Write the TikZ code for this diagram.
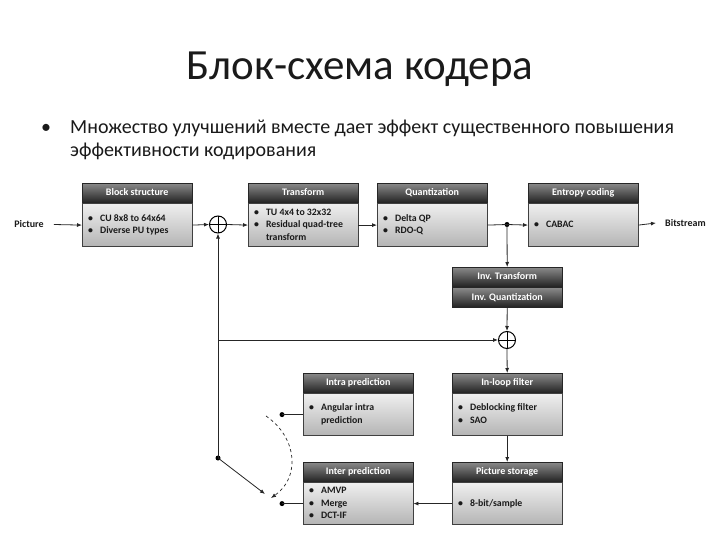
\documentclass[tikz,border=0pt]{standalone}
\usepackage{fontspec}
\setmainfont{Carlito}
\usetikzlibrary{arrows.meta}
\definecolor{ttop}{HTML}{8A8A8A}
\definecolor{tbot}{HTML}{202020}
\definecolor{btop}{HTML}{EFEFEF}
\definecolor{bbot}{HTML}{B4B4B4}
\definecolor{txt}{HTML}{1A1A1A}
\newcommand\itemsbox[1]{\begin{tabular}{@{}l@{\hspace{7pt}}l@{}}#1\end{tabular}}
\newcommand\bu{\textbullet}
\newcommand\blk[5]{%
  \node[titlebar, anchor=north west] (#1) at #2 {#3};
  \node[bodybox, minimum height=#5, anchor=north west] (#1b) at (#1.south west) {};
  \node[bodytext, anchor=west] (#1t) at ([xshift=6pt]#1b.west) {#4};
}
\begin{document}
\begin{tikzpicture}[x=1pt,y=-1pt,
  titlebar/.style={draw=black!85, top color=ttop, bottom color=tbot, text=white,
     font=\fontsize{10}{11}\selectfont\bfseries, minimum width=110pt, minimum height=20pt, inner sep=0pt,
     text height=7pt, text depth=2pt},
  bodybox/.style={draw=black!75, top color=btop, bottom color=bbot, minimum width=110pt, inner sep=0pt},
  bodytext/.style={text=txt, font=\fontsize{9.8}{12.5}\selectfont\bfseries, inner sep=0pt},
  arr/.style={-{Latex[length=5pt,width=4pt]}, line width=0.8pt, black!85},
  lin/.style={line width=0.8pt, black!85},
  dot/.style={circle, fill=black, inner sep=0pt, minimum size=5pt},
  sum/.style={circle, draw, line width=1pt, minimum size=17pt, inner sep=0pt, fill=white,
     path picture={\draw[line width=1pt] (path picture bounding box.north) -- (path picture bounding box.south)
       (path picture bounding box.west) -- (path picture bounding box.east);}},
  lbl/.style={text=txt, font=\fontsize{10}{12}\selectfont\bfseries, inner sep=0pt}
]
\useasboundingbox[fill=white] (0,0) rectangle (720,540);

% heading
\node[anchor=base, text=txt, font=\fontsize{43}{50}\selectfont, inner sep=0pt] (ttl) at (360,80) {Блок-схема кодера};
\node[anchor=base, text=txt, font=\fontsize{20}{24}\selectfont, inner sep=0pt] (bdot) at (46,134) {\textbullet};
\node[anchor=base west, text=txt, font=\fontsize{20}{24}\selectfont, inner sep=0pt] (bl1) at (70,134) {Множество улучшений вместе дает эффект существенного повышения};
\node[anchor=base west, text=txt, font=\fontsize{20}{24}\selectfont, inner sep=0pt] (bl2) at (70,157) {эффективности кодирования};

% blocks
\blk{bs}{(82,183)}{Block structure}{\itemsbox{\bu & CU 8x8 to 64x64\\ \bu & Diverse PU types}}{43pt}
\blk{tr}{(248,183)}{Transform}{\itemsbox{\bu & TU 4x4 to 32x32\\ \bu & Residual quad-tree\\ & transform}}{43pt}
\blk{qu}{(377,183)}{Quantization}{\itemsbox{\bu & Delta QP\\ \bu & RDO-Q}}{43pt}
\blk{en}{(528,183)}{Entropy coding}{\itemsbox{\bu & CABAC}}{43pt}
\blk{ip}{(303,373)}{Intra prediction}{\itemsbox{\bu & Angular intra\\ & prediction}}{42pt}
\blk{lf}{(452,373)}{In-loop filter}{\itemsbox{\bu & Deblocking filter\\ \bu & SAO}}{42pt}
\blk{ep}{(303,462)}{Inter prediction}{\itemsbox{\bu & AMVP\\ \bu & Merge\\ \bu & DCT-IF}}{42pt}
\blk{ps}{(452,462)}{Picture storage}{\itemsbox{\bu & 8-bit/sample}}{42pt}

\node[titlebar, anchor=north west] (it) at (452,267) {Inv. Transform};
\node[titlebar, anchor=north west] (iq) at (it.south west) {Inv. Quantization};

% labels
\node[lbl] (pic) at (29,224.5) {Picture};
\node[lbl, anchor=west] (bit) at (665,223) {Bitstream};

% sums and dots
\node[sum] (s1) at (218,224.5) {};
\node[sum] (s2) at (507,340) {};
\node[dot] (j1) at (507,224.5) {};
\node[dot] (di) at ([xshift=-21pt]ipb.west) {};
\node[dot] (de) at ([xshift=-21pt]epb.west) {};
\node[dot] (sw) at (218,458) {};
\coordinate (br) at (s1.south |- s2.west);
\coordinate (swe) at (265,494);
\coordinate (a1) at (266,416);
\coordinate (a2) at (271,498);

% connectors
\draw[arr] ([xshift=10pt]pic.east) -- (bsb.west);
\draw[arr] (bsb.east) -- (s1.west);
\draw[arr] (s1.east) -- (trb.west);
\draw[arr] (trb.east) -- (qub.west);
\draw[lin] (qub.east) -- (j1.center);
\draw[arr] (j1.center) -- (enb.west);
\draw[arr] (enb.east) -- ([xshift=-9pt]bit.west);
\draw[arr] (j1.center) -- (it.north);
\draw[arr] (iq.south) -- (s2.north);
\draw[arr] (s2.south) -- (lf.north);
\draw[arr] (lfb.south) -- (ps.north);
\draw[arr] (psb.west) -- (epb.east);
\draw[lin] (ipb.west) -- (di.center);
\draw[lin] (epb.west) -- (de.center);
\draw[arr] (sw.center) -- (s1.south);
\draw[arr] (br) -- (s2.west);
\draw[arr] (sw.center) -- (swe);
\draw[arr, dashed, line width=0.7pt] (a1) .. controls (298,438) and (300,478) .. (a2);
\end{tikzpicture}
\end{document}
